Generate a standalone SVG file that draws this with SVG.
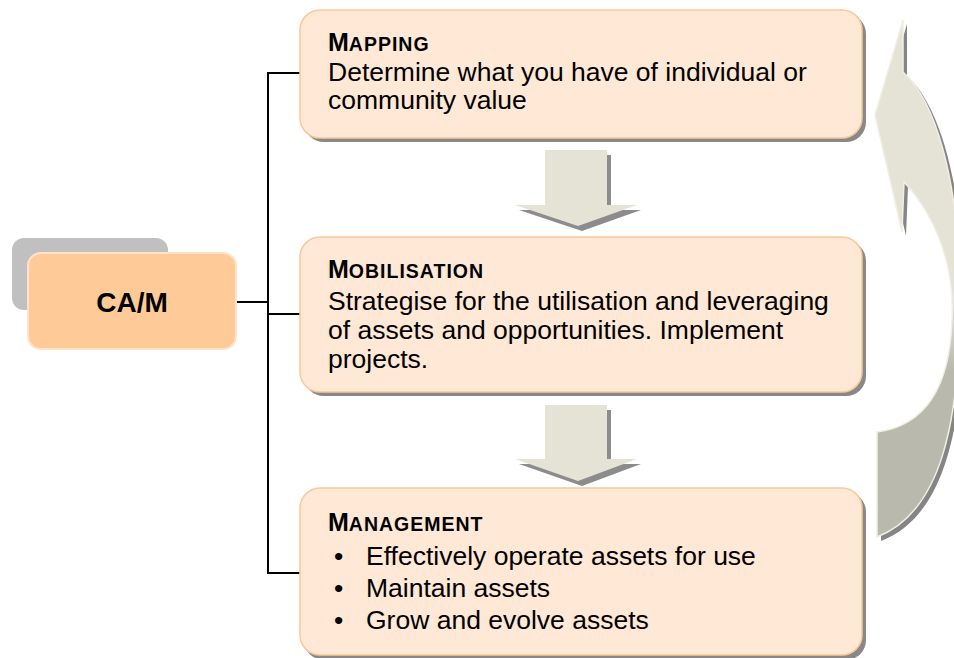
<svg xmlns="http://www.w3.org/2000/svg" width="954" height="658" viewBox="0 0 954 658">
<defs>
<style>
.box{fill:#FFE8D6;stroke:#FAC898;stroke-width:1.5}
.shadow{fill:#888888}
.t{font-family:"Liberation Sans",Arial,sans-serif;fill:#000}
.body{font-size:26.5px}
.title{font-weight:bold;font-size:19.5px;letter-spacing:1px}
.cap{font-size:25px;letter-spacing:0}
.conn{stroke:#000;stroke-width:2;fill:none}
.darr{fill:#E4E3D6}
.darrs{fill:#8C8C8C}
</style>
<linearGradient id="cg" gradientUnits="userSpaceOnUse" x1="0" y1="300" x2="0" y2="370">
<stop offset="0" stop-color="#E4E3D6"/>
<stop offset="1" stop-color="#B9B9AD"/>
</linearGradient>
</defs>
<rect width="954" height="658" fill="#FFFFFF"/>

<g id="connectors">
<polyline class="conn" points="300,73 268,73 268,573 300,573"/>
<line class="conn" x1="236" y1="302" x2="268" y2="302"/>
<line class="conn" x1="268" y1="314" x2="300" y2="314" stroke-width="1.5"/>
</g>

<g id="node-cam">
<rect x="12" y="238" width="156" height="72" rx="12" fill="#C0C0C0"/>
<rect x="28" y="253" width="208" height="96" rx="13" fill="#FECB98" stroke="#FFE3C6" stroke-width="2"/>
<text class="t" x="132" y="312" font-size="28" font-weight="bold" text-anchor="middle">CA/M</text>
</g>

<g id="node-mapping">
<rect class="shadow" x="304" y="14" width="562" height="128" rx="20"/>
<rect class="box" x="300" y="10" width="562" height="128" rx="20"/>
<text class="t title" x="328" y="51"><tspan class="cap">M</tspan>APPING</text>
<text class="t body" x="328" y="81">Determine what you have of individual or</text>
<text class="t body" x="328" y="109">community value</text>
</g>

<g id="node-mobilisation">
<rect class="shadow" x="304" y="241" width="562" height="155" rx="20"/>
<rect class="box" x="300" y="237" width="562" height="155" rx="20"/>
<text class="t title" x="328" y="278"><tspan class="cap">M</tspan>OBILISATION</text>
<text class="t body" x="328" y="310">Strategise for the utilisation and leveraging</text>
<text class="t body" x="328" y="339">of assets and opportunities. Implement</text>
<text class="t body" x="328" y="368">projects.</text>
</g>

<g id="node-management">
<rect class="shadow" x="304" y="492" width="562" height="168" rx="20"/>
<rect class="box" x="300" y="488" width="562" height="167" rx="20"/>
<text class="t title" x="328" y="531"><tspan class="cap">M</tspan>ANAGEMENT</text>
<text class="t body" x="334" y="565">•</text>
<text class="t body" x="366" y="565">Effectively operate assets for use</text>
<text class="t body" x="334" y="597">•</text>
<text class="t body" x="366" y="597">Maintain assets</text>
<text class="t body" x="334" y="629">•</text>
<text class="t body" x="366" y="629">Grow and evolve assets</text>
</g>

<g id="arrow-down-1">
<polygon class="darrs" points="549,155 611,155 611,210 641,210 582,231 519,210 549,210"/>
<polygon class="darr" points="545,150 607,150 607,205 637,205 578,226 515,205 545,205"/>
</g>

<g id="arrow-down-2">
<polygon class="darrs" points="549,410 611,410 611,464 641,464 582,486 519,464 549,464"/>
<polygon class="darr" points="545,405 607,405 607,459 637,459 578,481 515,459 545,459"/>
</g>

<g id="arrow-cycle">
<path transform="translate(4,4)" fill="#858585" d="M903,20 L875,115 L902,232 L904,182 C935,215 955,265 952,320 C950,380 930,425 877,432 L877,537 C942,512 960,420 960,300 C960,180 935,100 903,72 Z"/>
<path fill="url(#cg)" stroke="#F0EFE4" stroke-width="1.5" d="M903,20 L875,115 L902,232 L904,182 C935,215 955,265 952,320 C950,380 930,425 877,432 L877,537 C942,512 960,420 960,300 C960,180 935,100 903,72 Z"/>
</g>
</svg>
